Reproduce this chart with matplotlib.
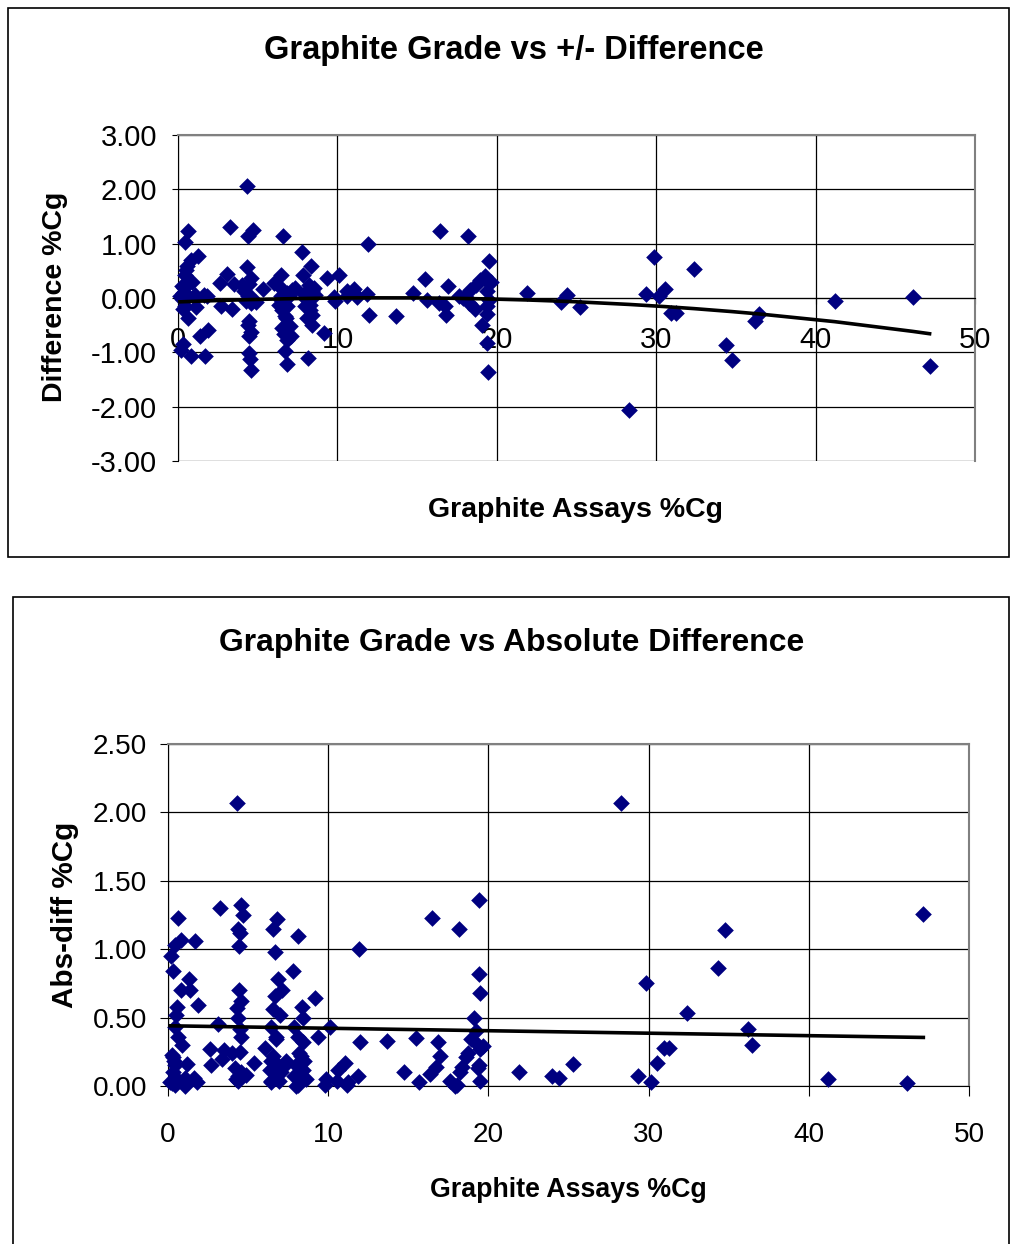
import numpy as np
import matplotlib
matplotlib.use("Agg")
import matplotlib.pyplot as plt
from matplotlib import font_manager
from matplotlib.patches import Rectangle

# graphite assay (%Cg) and signed repeat difference (%Cg)
grade = [0.64, 0.44, 0.79, 0.19, 1.70, 0.30, 1.28, 0.80, 1.39, 1.88,
         0.54, 0.45, 0.50, 0.64, 0.85, 0.35, 0.33, 0.44, 1.16, 0.33,
         0.54, 0.23, 1.16, 1.84, 0.12, 1.06, 0.44, 1.07, 1.60, 0.23,
         2.61, 2.71, 3.10, 3.52, 3.40, 3.27, 4.00,
         4.33, 4.58, 4.68, 4.40, 4.52, 4.45, 4.43, 4.58, 4.33, 4.37,
         4.47, 4.58, 4.47, 4.16, 4.58, 4.40, 4.27, 4.37, 4.89,
         5.35, 6.05,
         6.81, 6.58, 6.69, 6.86, 6.65, 7.10, 6.55, 7.00, 6.44, 6.75,
         6.44, 6.55, 6.86, 7.06, 6.44, 6.86, 6.34, 7.17, 6.44, 6.96, 6.73,
         7.37, 8.14, 7.80, 8.35, 8.41, 7.85, 8.10, 8.41, 8.20, 8.30,
         7.99, 8.51, 8.41, 7.89, 8.10, 8.30, 8.61, 7.99,
         9.17, 10.12, 9.34, 9.86, 9.80, 10.58, 10.63,
         11.04, 11.20, 11.83, 11.97, 11.92, 11.26, 13.69, 14.72, 15.51, 15.65,
         16.45, 16.38, 16.75, 16.83, 16.96, 17.62, 17.90, 18.04, 18.18,
         18.24, 18.35, 18.62, 18.70, 18.94, 19.07, 19.25, 19.38, 19.48, 19.40,
         19.48, 19.50, 19.44, 19.40, 19.38, 19.65,
         21.90, 24.00, 24.40, 25.25, 28.30, 29.35, 29.85, 30.15, 30.55, 30.95,
         31.25, 32.40, 34.35, 34.75, 36.20, 36.45, 41.20, 46.10, 47.15]
diff = [1.23, 1.03, -1.07, -0.95, -1.06, -0.84, 0.78, 0.70, -0.70, -0.59,
        0.58, 0.43, 0.52, -0.36, 0.30, 0.18, -0.21, -0.15, -0.16, 0.10,
        0.05, -0.02, 0.02, 0.03, 0.03, 0.00, 0.01, 0.06, 0.06, 0.23,
        0.27, -0.15, 0.45, 0.26, -0.20, 1.30, 0.24,
        2.07, -1.32, 1.25, 1.15, -1.12, -1.02, -0.70, -0.62, 0.57, -0.50,
        -0.42, 0.36, 0.25, 0.13, -0.10, 0.07, -0.05, 0.04, -0.08,
        0.17, 0.28,
        -1.22, 1.15, -0.98, -0.78, -0.66, -0.70, -0.56, -0.52, 0.43, -0.36,
        0.18, -0.22, -0.15, 0.10, -0.04, 0.09, -0.12, 0.14, 0.03, 0.04, -0.34,
        0.18, -1.10, 0.84, 0.58, -0.50, 0.43, -0.36, -0.32, 0.24, -0.22,
        -0.15, 0.18, 0.12, 0.07, 0.01, -0.12, 0.05, 0.00,
        -0.64, 0.43, 0.36, -0.05, 0.01, 0.04, 0.12,
        0.17, 0.01, 0.07, -0.32, 1.00, 0.03, -0.33, 0.10, 0.35, -0.03,
        1.23, -0.09, -0.14, -0.32, 0.22, 0.04, 0.00, 0.01, 1.15,
        -0.10, 0.14, -0.21, 0.24, 0.34, -0.50, 0.40, -0.30, 0.27, -0.15,
        -0.04, 0.68, -1.36, -0.82, 0.13, 0.29,
        0.10, -0.07, 0.06, -0.16, -2.07, 0.07, 0.75, 0.03, 0.17, -0.28,
        -0.28, 0.53, -0.86, -1.14, -0.42, -0.30, -0.05, 0.02, -1.26]

# trendlines as drawn in the original
trend_top_x = [0, 5, 10, 15, 20, 25, 30, 35, 40, 45, 47.2]
trend_top_y = [-0.07, -0.03, 0.0, 0.0, -0.01, -0.08, -0.15, -0.25, -0.40, -0.57, -0.66]
trend_abs_x = [0.12, 47.15]
trend_abs_y = [0.44, 0.355]

x_ticks = [0, 10, 20, 30, 40, 50]
y_ticks_top = [-3, -2, -1, 0, 1, 2, 3]
y_ticks_bot = [0, 0.5, 1.0, 1.5, 2.0, 2.5]

grade = np.array(grade)
diff = np.array(diff)
abs_diff = np.abs(diff)

W, H = 1010, 1244
NAVY = "#000080"
GREY = "#808080"

names = {f.name for f in font_manager.fontManager.ttflist}
NARROW = "Liberation Sans Narrow" in names
plt.rcParams["font.family"] = ["Liberation Sans", "DejaVu Sans"]
nfam = ["Liberation Sans Narrow", "Liberation Sans"] if NARROW else ["Liberation Sans"]
nk = 1.0 if NARROW else 0.82


def rect(x0, y0, x1, y1):
    return [x0 / W, 1 - y1 / H, (x1 - x0) / W, (y1 - y0) / H]


def ftext(x, y, s, **kw):
    fig.text(x / W, 1 - y / H, s, ha="center", va="center", **kw)


fig = plt.figure(figsize=(W / 100, H / 100), dpi=100)

# chart frames
fig.patches.append(Rectangle((8 / W, 1 - 557 / H), 1001 / W, 549 / H,
                             transform=fig.transFigure, fill=False,
                             edgecolor="black", linewidth=1.2))
fig.patches.append(Rectangle((13 / W, 1 - 1250 / H), 996 / W, 653 / H,
                             transform=fig.transFigure, fill=False,
                             edgecolor="black", linewidth=1.2))

MS = 72

# ---- top chart: signed difference ----
ax1 = fig.add_axes(rect(178, 135, 975, 461))
ax1.scatter(grade, diff, marker="D", s=MS, color=NAVY, linewidths=0,
            zorder=3, clip_on=False)
xs = np.sort(grade)
p3 = np.polyfit(trend_top_x, trend_top_y, 3)
ax1.plot(xs, np.polyval(p3, xs), color="black", linewidth=2.6, zorder=4)
ax1.set_xlim(0, 50)
ax1.set_ylim(-3, 3)
ax1.set_xticks(x_ticks)
ax1.set_yticks(y_ticks_top)
ax1.set_yticklabels([f"{v:.2f}" for v in y_ticks_top])
ax1.grid(True, color="black", linewidth=0.9)
ax1.set_axisbelow(True)
ax1.spines["bottom"].set_position(("data", 0))
for s in ("top", "right"):
    ax1.spines[s].set_color(GREY)
    ax1.spines[s].set_linewidth(1.5)
ax1.tick_params(axis="y", length=4, pad=11, labelsize=21)
ax1.tick_params(axis="x", length=4, pad=16, labelsize=21)

ftext(514, 50, "Graphite Grade vs +/- Difference", fontsize=23.5,
      fontweight="bold")
ftext(576, 510, "Graphite Assays %Cg", fontsize=20.5, fontweight="bold")
ftext(55, 297, "Difference %Cg", fontsize=20.5, fontweight="bold",
      rotation=90)

# ---- bottom chart: absolute difference ----
ax2 = fig.add_axes(rect(168, 744, 969, 1086))
ax2.scatter(grade, abs_diff, marker="D", s=MS, color=NAVY, linewidths=0,
            zorder=3, clip_on=False)
ax2.plot(trend_abs_x, trend_abs_y, color="black", linewidth=2.6, zorder=4)
ax2.set_xlim(0, 50)
ax2.set_ylim(0, 2.5)
ax2.set_xticks(x_ticks)
ax2.set_yticks(y_ticks_bot)
ax2.set_yticklabels([f"{v:.2f}" for v in y_ticks_bot], family=nfam)
ax2.set_xticklabels([str(v) for v in x_ticks], family=nfam)
ax2.grid(True, color="black", linewidth=0.9)
ax2.set_axisbelow(True)
for s in ("top", "right"):
    ax2.spines[s].set_color(GREY)
    ax2.spines[s].set_linewidth(1.5)
ax2.tick_params(axis="y", length=6, pad=9, labelsize=24.5 * nk)
ax2.tick_params(axis="x", length=7, pad=19, labelsize=24.5 * nk)

ftext(512, 643, "Graphite Grade vs Absolute Difference",
      fontsize=28 * nk, fontweight="bold", family=nfam)
ftext(568, 1190, "Graphite Assays %Cg", fontsize=23.5 * nk,
      fontweight="bold", family=nfam)
ftext(65, 915, "Abs-diff %Cg", fontsize=26 * nk, fontweight="bold",
      family=nfam, rotation=90)

fig.savefig("out.png", dpi=100)
